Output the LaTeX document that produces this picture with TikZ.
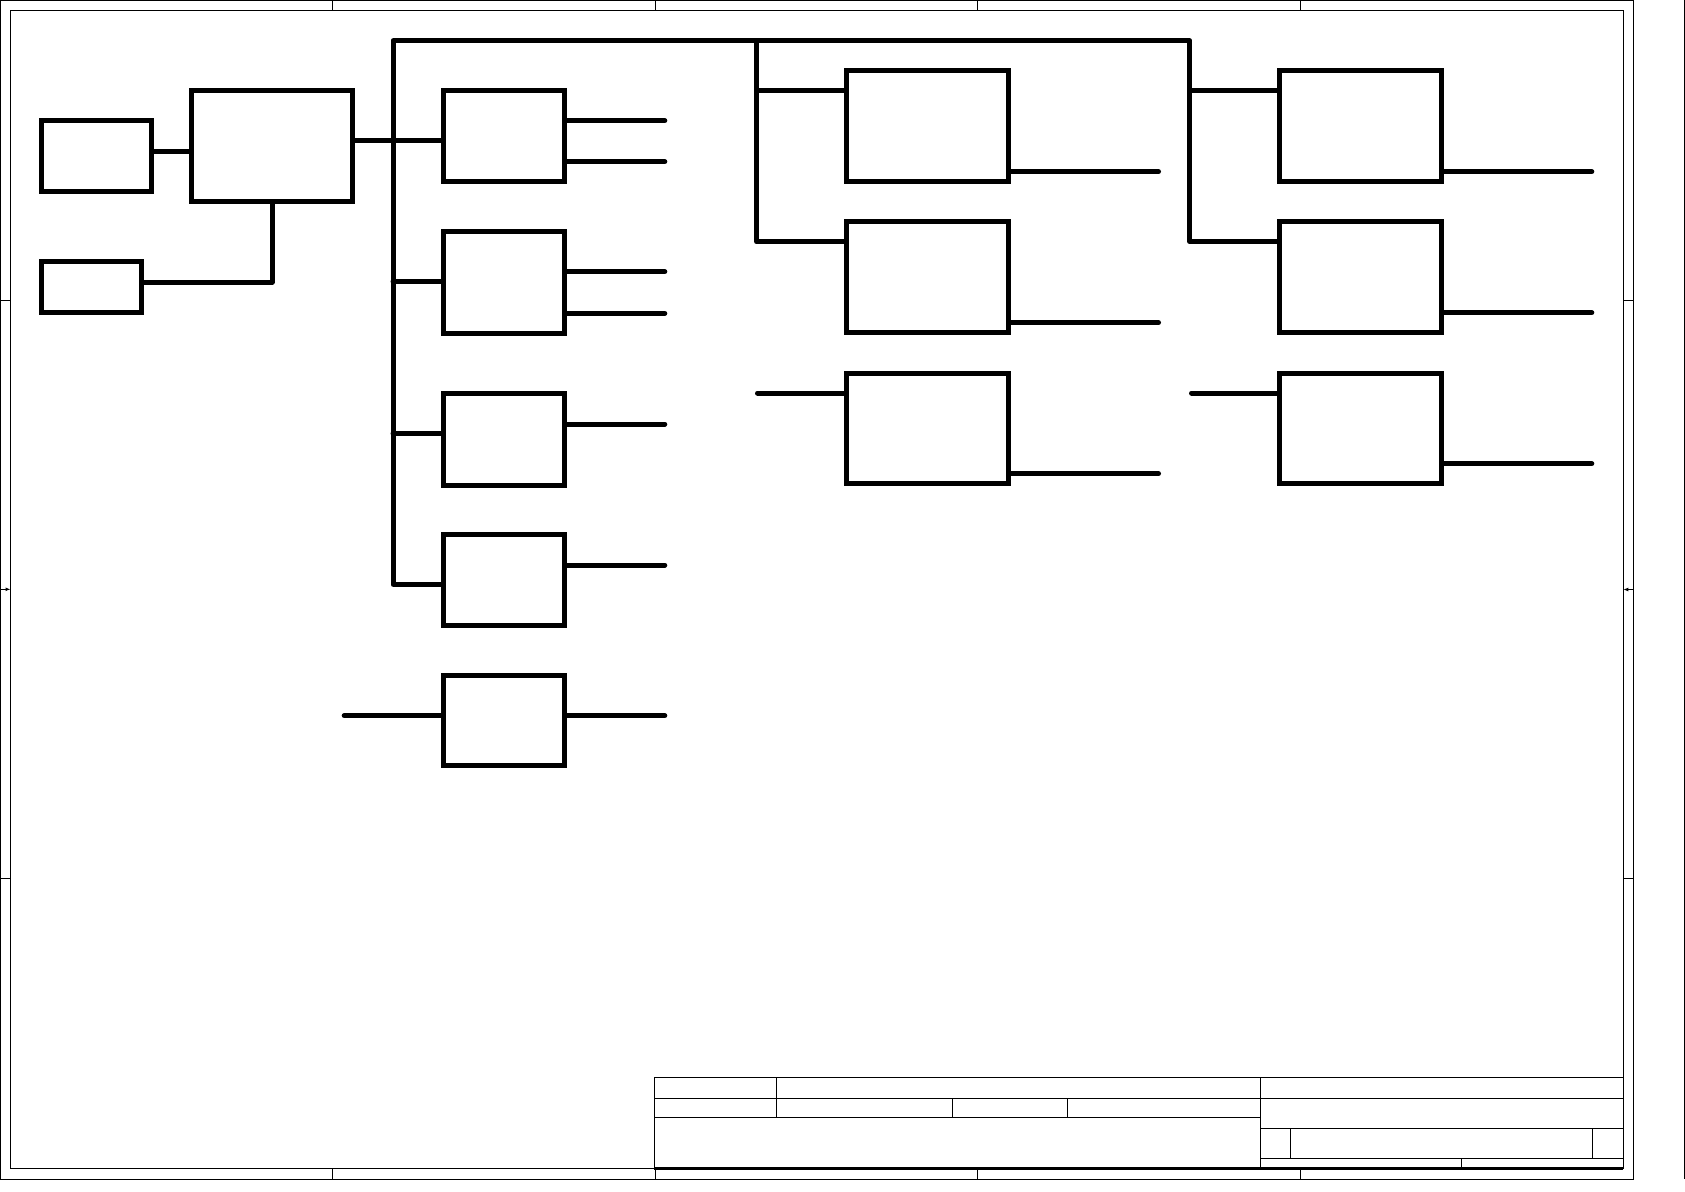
\documentclass[tikz,border=0pt]{standalone}
\usetikzlibrary{arrows.meta}
\begin{document}
\begin{tikzpicture}[x=1pt,y=-1pt,
  blk/.style={draw, line width=5pt, inner sep=0pt},
  wire/.style={line width=5pt, line cap=round, line join=round},
  thinline/.style={line width=1pt},
  tbase/.style={line width=2.4pt},
  marker/.style={line width=1pt,-{Latex[length=5pt,width=4pt]}}]
\useasboundingbox (0,0) rectangle (1685,1191);
\fill[white] (0,0) rectangle (1685,1191);

% ---------- drawing frame ----------
\draw[thinline] (0.5,0.5) rectangle (1633.3,1179.3);
\draw[thinline] (10.5,10.5) rectangle (1623.3,1168.3);
\draw[thinline] (1684.3,0) -- (1684.3,1179.3);
\foreach \x in {332,655.5,977,1300.3} {
  \draw[thinline] (\x,0.5) -- (\x,10.5);
  \draw[thinline] (\x,1168.3) -- (\x,1179.3);
}
\foreach \y in {300.5,878} {
  \draw[thinline] (0.5,\y) -- (10.5,\y);
  \draw[thinline] (1623.3,\y) -- (1633.3,\y);
}
\draw[marker] (0.5,589.3) -- (10.5,589.3);
\draw[marker] (1633.3,589.5) -- (1623.3,589.5);

% ---------- title block ----------
\draw[thinline] (654.4,1168.3) -- (654.4,1077.3) -- (1623.3,1077.3);
\draw[tbase] (654.4,1168.3) -- (1623.3,1168.3);
\draw[thinline] (654.4,1098.3) -- (1623.3,1098.3);
\draw[thinline] (654.4,1117.3) -- (1260.4,1117.3);
\draw[thinline] (1260.4,1077.3) -- (1260.4,1168.3);
\draw[thinline] (776,1077.3) -- (776,1117.3);
\draw[thinline] (952.3,1098.3) -- (952.3,1117.3);
\draw[thinline] (1067.3,1098.3) -- (1067.3,1117.3);
\draw[thinline] (1260.4,1128.3) -- (1623.3,1128.3);
\draw[thinline] (1260.4,1158.3) -- (1623.3,1158.3);
\draw[thinline] (1290.3,1128.3) -- (1290.3,1158.3);
\draw[thinline] (1592.3,1128.3) -- (1592.3,1158.3);
\draw[thinline] (1461.3,1158.3) -- (1461.3,1168.3);

% ---------- blocks ----------
\node[blk, minimum width=110pt, minimum height=71pt] (A) at (96,156.2) {};
\node[blk, minimum width=161.3pt, minimum height=110.7pt] (B) at (272.3,146.3) {};
\node[blk, minimum width=100pt, minimum height=51pt] (C) at (91,287.2) {};

\node[blk, minimum width=121.3pt, minimum height=91pt] (D1) at (504.2,136.3) {};
\node[blk, minimum width=121.3pt, minimum height=101.4pt] (D2) at (504.2,282.5) {};
\node[blk, minimum width=121.3pt, minimum height=91.8pt] (D3) at (504.2,439.1) {};
\node[blk, minimum width=121.3pt, minimum height=90.8pt] (D4) at (504.2,579.6) {};
\node[blk, minimum width=121.3pt, minimum height=90pt] (D5) at (504.2,720.8) {};

\node[blk, minimum width=161.4pt, minimum height=111pt] (E1) at (927.5,126.3) {};
\node[blk, minimum width=161.4pt, minimum height=110.7pt] (E2) at (927.5,277.2) {};
\node[blk, minimum width=161.4pt, minimum height=110.3pt] (E3) at (927.5,428.4) {};

\node[blk, minimum width=162pt, minimum height=111pt] (F1) at (1360.8,126.3) {};
\node[blk, minimum width=162pt, minimum height=110.7pt] (F2) at (1360.8,277.2) {};
\node[blk, minimum width=162pt, minimum height=110.3pt] (F3) at (1360.8,428.4) {};

% ---------- rails / free ends ----------
\coordinate (yAB) at (0,151);
\coordinate (yCB) at (0,282);
\coordinate (yB1) at (0,140.5);
\coordinate (busL) at (393,40.8);
\coordinate (busM) at (756.5,40.8);
\coordinate (busR) at (1189.8,40.8);
\coordinate (busLbot) at (393,584.3);
\coordinate (busMbot) at (756.5,241.7);
\coordinate (busRbot) at (1189.8,241.7);
\coordinate (tapD2) at (393,281.7);
\coordinate (tapD3) at (393,433.3);
\coordinate (tapE1) at (756.5,90.7);
\coordinate (tapF1) at (1189.8,90.7);
\coordinate (inD5) at (344.2,715.7);
\coordinate (inE3) at (757.5,393);
\coordinate (inF3) at (1191.5,393);

\coordinate (oD1a) at (664.8,120.7);
\coordinate (oD1b) at (664.8,161.7);
\coordinate (oD2a) at (664.8,271.7);
\coordinate (oD2b) at (664.8,313.3);
\coordinate (oD3) at (664.8,424);
\coordinate (oD4) at (664.8,565);
\coordinate (oD5) at (664.8,715.7);
\coordinate (oE1) at (1158.5,171.7);
\coordinate (oE2) at (1158.5,322.7);
\coordinate (oE3) at (1158.5,473.7);
\coordinate (oF1) at (1591.8,171.7);
\coordinate (oF2) at (1591.8,312.7);
\coordinate (oF3) at (1591.8,463.7);

% ---------- connectors ----------
\draw[wire] (A.east |- yAB) -- (B.west |- yAB);
\draw[wire] (C.east |- yCB) -| (B.south);
\draw[wire] (B.east |- yB1) -- (D1.west |- yB1);

\draw[wire] (D4.west |- busLbot) -- (busLbot) -- (busL) -- (busR) -- (busRbot) -- (F2.west |- busRbot);
\draw[wire] (busM) -- (busMbot) -- (E2.west |- busMbot);
\draw[wire] (tapD2) -- (D2.west |- tapD2);
\draw[wire] (tapD3) -- (D3.west |- tapD3);
\draw[wire] (tapE1) -- (E1.west |- tapE1);
\draw[wire] (tapF1) -- (F1.west |- tapF1);

\draw[wire] (inD5) -- (D5.west |- inD5);
\draw[wire] (inE3) -- (E3.west |- inE3);
\draw[wire] (inF3) -- (F3.west |- inF3);

\draw[wire] (D1.east |- oD1a) -- (oD1a);
\draw[wire] (D1.east |- oD1b) -- (oD1b);
\draw[wire] (D2.east |- oD2a) -- (oD2a);
\draw[wire] (D2.east |- oD2b) -- (oD2b);
\draw[wire] (D3.east |- oD3) -- (oD3);
\draw[wire] (D4.east |- oD4) -- (oD4);
\draw[wire] (D5.east |- oD5) -- (oD5);
\draw[wire] (E1.east |- oE1) -- (oE1);
\draw[wire] (E2.east |- oE2) -- (oE2);
\draw[wire] (E3.east |- oE3) -- (oE3);
\draw[wire] (F1.east |- oF1) -- (oF1);
\draw[wire] (F2.east |- oF2) -- (oF2);
\draw[wire] (F3.east |- oF3) -- (oF3);
\end{tikzpicture}
\end{document}
